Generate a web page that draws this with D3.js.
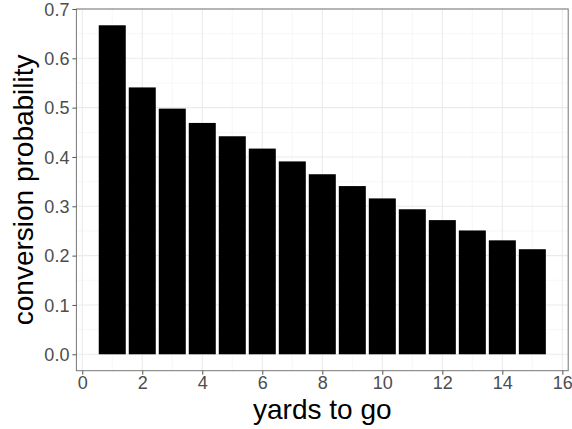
<!DOCTYPE html>
<html><head><meta charset="utf-8">
<script src="https://cdn.jsdelivr.net/npm/d3@7"></script>
<style>body{margin:0;background:#fff}svg{display:block}</style>
</head><body>
<svg id="c" width="572" height="429"></svg>
<script>
const yards = [1,2,3,4,5,6,7,8,9,10,11,12,13,14,15];
const prob = [0.667,0.541,0.498,0.469,0.442,0.417,0.391,0.365,0.341,0.316,0.294,0.272,0.251,0.231,0.213];
const xTicks = [0,2,4,6,8,10,12,14,16];
const yTicks = [0,0.1,0.2,0.3,0.4,0.5,0.6,0.7];
const xMinor = [1,3,5,7,9,11,13,15];
const yMinor = [0.05,0.15,0.25,0.35,0.45,0.55,0.65];
const xTitle = "yards to go", yTitle = "conversion probability";

const svg = d3.select("#c");
const L = 76.4, R = 568.2, T = 9, B = 370.7;
const barW = 0.9;
const xmin = 1 - barW/2, xmax = 15 + barW/2, xpad = (xmax - xmin) * 0.05;
const x = d3.scaleLinear().domain([xmin - xpad, xmax + xpad]).range([L, R]);
const y = d3.scaleLinear().domain([-0.0333, 0.7]).range([B, T]);

const grid = svg.append("g");
grid.selectAll(".ym").data(yMinor).join("line").attr("x1",L).attr("x2",R)
  .attr("y1",d=>y(d)).attr("y2",d=>y(d)).attr("stroke","#F2F2F2").attr("stroke-width",0.6);
grid.selectAll(".xm").data(xMinor).join("line").attr("y1",T).attr("y2",B)
  .attr("x1",d=>x(d)).attr("x2",d=>x(d)).attr("stroke","#F2F2F2").attr("stroke-width",0.6);
grid.selectAll(".yM").data(yTicks).join("line").attr("x1",L).attr("x2",R)
  .attr("y1",d=>y(d)).attr("y2",d=>y(d)).attr("stroke","#EBEBEB").attr("stroke-width",1.1);
grid.selectAll(".xM").data(xTicks).join("line").attr("y1",T).attr("y2",B)
  .attr("x1",d=>x(d)).attr("x2",d=>x(d)).attr("stroke","#EBEBEB").attr("stroke-width",1.1);

svg.append("g").selectAll("rect").data(yards).join("rect")
  .attr("x", (d)=>x(d - barW/2)).attr("width", (d)=>x(d + barW/2) - x(d - barW/2))
  .attr("y", (d,i)=>y(prob[i])).attr("height", (d,i)=>y(0) - y(prob[i]))
  .attr("fill","#000");

svg.append("rect").attr("x",L).attr("y",T).attr("width",R-L).attr("height",B-T)
  .attr("fill","none").attr("stroke","#777").attr("stroke-width",1);

const font = "'Liberation Sans', Arial, Helvetica, sans-serif";
const xAxis = d3.axisBottom(x).tickValues(xTicks).tickSize(4).tickPadding(2).tickFormat(d3.format("d"));
const gx = svg.append("g").attr("transform",`translate(0,${B})`).call(xAxis);
const yAxis = d3.axisLeft(y).tickValues(yTicks).tickSize(4).tickPadding(3).tickFormat(d3.format(".1f"));
const gy = svg.append("g").attr("transform",`translate(${L},0)`).call(yAxis);
[gx,gy].forEach(g=>{
  g.select(".domain").remove();
  g.selectAll(".tick line").attr("stroke","#555");
  g.selectAll("text").attr("fill","#4D4D4D").style("font-family",font).style("font-size","18px");
});
gy.selectAll("text").attr("dy","0.35em");

svg.append("text").attr("x",(L+R)/2).attr("y",419).attr("text-anchor","middle")
  .style("font-family",font).style("font-size","28px").attr("fill","#000").text(xTitle);
svg.append("text").attr("transform",`translate(32.5,${(T+B)/2}) rotate(-90)`).attr("text-anchor","middle")
  .style("font-family",font).style("font-size","28px").attr("fill","#000").text(yTitle);
</script>
</body></html>
